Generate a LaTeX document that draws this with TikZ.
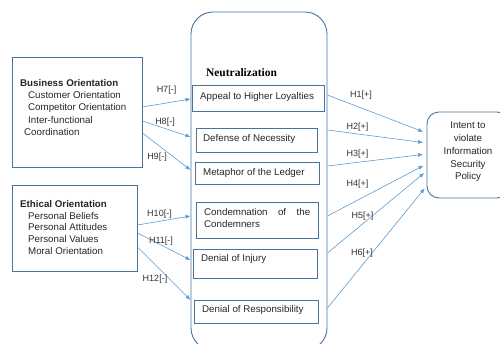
\documentclass[tikz,border=0pt]{standalone}
\usepackage{fontspec}
\setmainfont{Liberation Sans}
\newfontfamily\neufont{Liberation Serif}
\usetikzlibrary{arrows.meta}
\definecolor{boxblue}{RGB}{72,115,160}
\definecolor{arrblue}{RGB}{91,155,213}
\begin{document}
\begin{tikzpicture}[x=1pt,y=-1pt,
  frame/.style={draw=boxblue,line width=0.9pt,inner sep=0pt},
  arr/.style={draw=arrblue,line width=0.6pt,-{Latex[length=5pt,width=4pt]}},
  txt/.style={inner sep=0pt,anchor=west,font=\fontsize{9.75}{12.25}\selectfont,text=black!85,align=left},
  hlab/.style={inner sep=0pt,font=\fontsize{9}{10}\selectfont,text=black!80}]
\useasboundingbox (0,0) rectangle (500,343);
\clip (0,0) rectangle (500,343);
% outer boxes
\node[frame,minimum width=130pt,minimum height=110pt] (bus) at (77,112) {};
\node[frame,minimum width=125pt,minimum height=86pt] (eth) at (74.5,228) {};
\node[frame,rounded corners=22pt,minimum width=136pt,minimum height=338pt] (neu) at (259,181) {};
\node[frame,rounded corners=12pt,minimum width=82pt,minimum height=86pt] (int) at (468,155) {};
% inner boxes
\node[frame,minimum width=132pt,minimum height=26pt] (app) at (258,98) {};
\node[frame,minimum width=121pt,minimum height=24pt] (def) at (256.5,140) {};
\node[frame,minimum width=124pt,minimum height=22pt] (met) at (257,173) {};
\node[frame,minimum width=122pt,minimum height=36pt] (con) at (257,220) {};
\node[frame,minimum width=124pt,minimum height=29pt] (inj) at (255,263.5) {};
\node[frame,minimum width=124pt,minimum height=23pt] (res) at (256,311.5) {};
% texts
\node[txt] (bustxt) at (20,107.5) {\textbf{Business Orientation}\\\hspace*{8pt}Customer Orientation\\\hspace*{8pt}Competitor Orientation\\\hspace*{8pt}Inter-functional\\\hspace*{4pt}Coordination};
\node[txt,font=\fontsize{9.75}{11.8}\selectfont] (ethtxt) at (20,227.5) {\textbf{Ethical Orientation}\\\hspace*{8pt}Personal Beliefs\\\hspace*{8pt}Personal Attitudes\\\hspace*{8pt}Personal Values\\\hspace*{8pt}Moral Orientation};
\node[inner sep=0pt,font=\neufont\bfseries\fontsize{11.5}{13}\selectfont] (neutxt) at (241.5,73) {Neutralization};
\node[txt] (apptxt) at (200,97) {Appeal to Higher Loyalties};
\node[txt] (deftxt) at (203,139) {Defense of Necessity};
\node[txt] (mettxt) at (203,172.5) {Metaphor of the Ledger};
\node[txt,font=\fontsize{9.75}{12}\selectfont] (contxt) at (204,218) {\hbox to 106pt{Condemnation\hfill of\hfill the}\\Condemners};
\node[txt] (injtxt) at (201,259) {Denial of Injury};
\node[txt] (restxt) at (202,310) {Denial of Responsibility};
\node[inner sep=0pt,align=center,font=\fontsize{9.75}{12.8}\selectfont,text=black!85] (inttxt) at (468,152) {Intent to\\violate\\Information\\Security\\Policy};
% left arrows
\draw[arr] (bus.east |- 0,107) -- (neu.west |- 0,99);
\draw[arr] (bus.east |- 0,121) -- (neu.west |- 0,137);
\draw[arr] (bus.east |- 0,133) -- (neu.west |- 0,170);
\draw[arr] (eth.east |- 0,225) -- (neu.west |- 0,216);
\draw[arr] (eth.east |- 0,233) -- (neu.west |- 0,260);
\draw[arr] (eth.east |- 0,247) -- (neu.west |- 0,300);
% right arrows
\draw[arr,shorten >=3.5pt] (neu.east |- 0,95) -- (int.west |- 0,133);
\draw[arr,shorten >=3.5pt] (neu.east |- 0,130) -- (int.west |- 0,143);
\draw[arr,shorten >=3.5pt] (neu.east |- 0,166) -- (int.west |- 0,154);
\draw[arr,shorten >=3.5pt] (neu.east |- 0,216) -- (int.west |- 0,164);
\draw[arr,shorten >=3pt] (neu.east |- 0,253) -- (int.west |- 0,171);
\draw[arr,shorten >=3pt] (neu.east |- 0,308) -- (int.west |- 0,186);
% labels
\node[hlab] (l7) at (166.5,90) {H7[-]};
\node[hlab] (l8) at (165,122) {H8[-]};
\node[hlab] (l9) at (157,157) {H9[-]};
\node[hlab] (l10) at (159.5,214) {H10[-]};
\node[hlab] (l11) at (161,241) {H11[-]};
\node[hlab] (l12) at (155,279) {H12[-]};
\node[hlab] (l1) at (361,95) {H1[+]};
\node[hlab] (l2) at (357.5,127) {H2[+]};
\node[hlab] (l3) at (357.5,154) {H3[+]};
\node[hlab] (l4) at (357.5,184) {H4[+]};
\node[hlab] (l5) at (362.5,216) {H5[+]};
\node[hlab] (l6) at (362,253) {H6[+]};
\end{tikzpicture}
\end{document}
